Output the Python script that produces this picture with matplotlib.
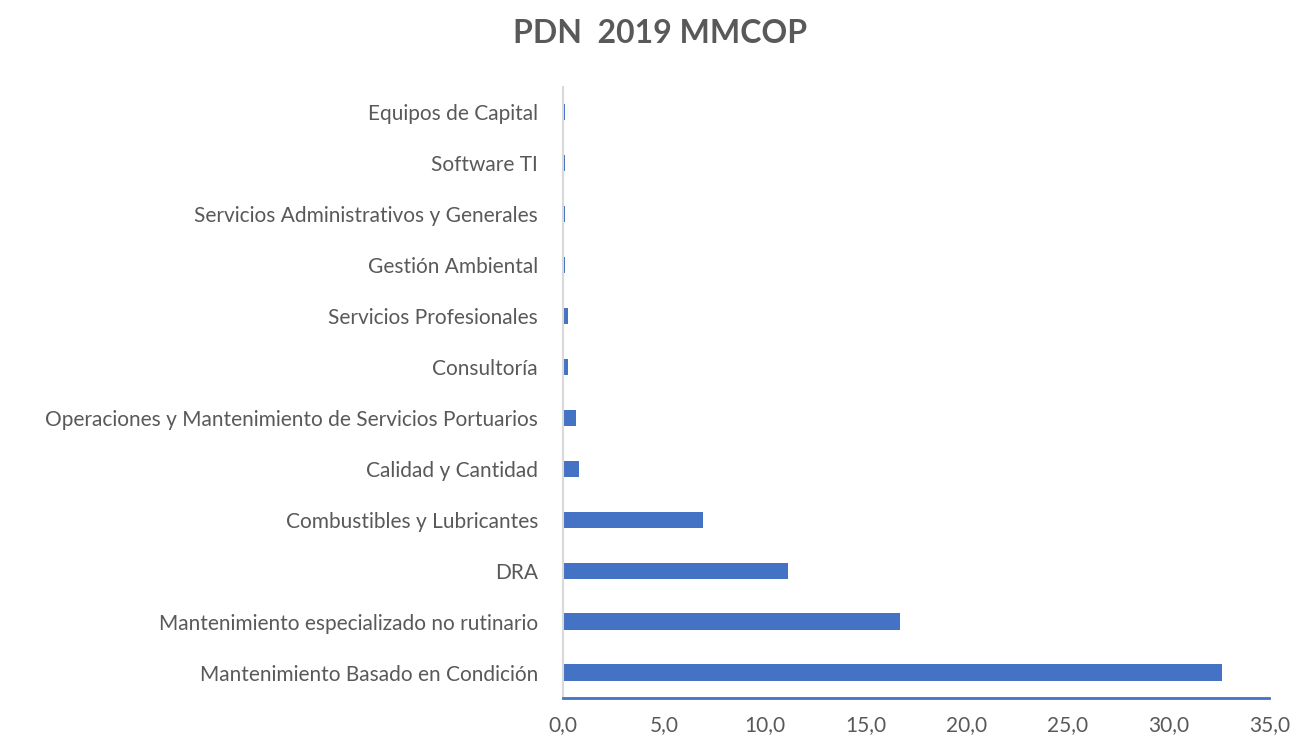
import matplotlib.pyplot as plt
from matplotlib.ticker import FuncFormatter

categories = [
    "Mantenimiento Basado en Condición",
    "Mantenimiento especializado no rutinario",
    "DRA",
    "Combustibles y Lubricantes",
    "Calidad y Cantidad",
    "Operaciones y Mantenimiento de Servicios Portuarios",
    "Consultoría",
    "Servicios Profesionales",
    "Gestión Ambiental",
    "Servicios Administrativos y Generales",
    "Software TI",
    "Equipos de Capital",
]
values = [32.65, 16.7, 11.15, 6.95, 0.78, 0.64, 0.25, 0.25, 0.11, 0.09, 0.09, 0.09]

plt.rcParams['font.family'] = ['Lato', 'DejaVu Sans']
grey = '#595959'
blue = '#4472C4'

fig = plt.figure(figsize=(12.94, 7.41), dpi=100)
ax = fig.add_axes([0.435, 0.058, 0.546, 0.825])

ax.barh(range(len(categories)), values, height=0.32, color=blue)
ax.set_yticks(range(len(categories)))
ax.set_yticklabels(categories)
ax.set_ylim(-0.5, len(categories) - 0.5)
ax.set_xlim(0, 35)
ax.set_xticks(range(0, 36, 5))
ax.xaxis.set_major_formatter(FuncFormatter(lambda v, p: f"{v:.1f}".replace('.', ',')))

ax.tick_params(axis='both', length=0, labelsize=15, labelcolor=grey)
ax.tick_params(axis='y', pad=18)
ax.tick_params(axis='x', pad=12)

for s in ['top', 'right']:
    ax.spines[s].set_visible(False)
ax.spines['left'].set_color('#D9D9D9')
ax.spines['left'].set_linewidth(1.5)
ax.spines['bottom'].set_color(blue)
ax.spines['bottom'].set_linewidth(2)

fig.text(0.51, 0.955, "PDN  2019 MMCOP", ha='center', va='center',
         fontsize=23, fontweight='bold', color=grey)

fig.savefig('out.png', dpi=100)
